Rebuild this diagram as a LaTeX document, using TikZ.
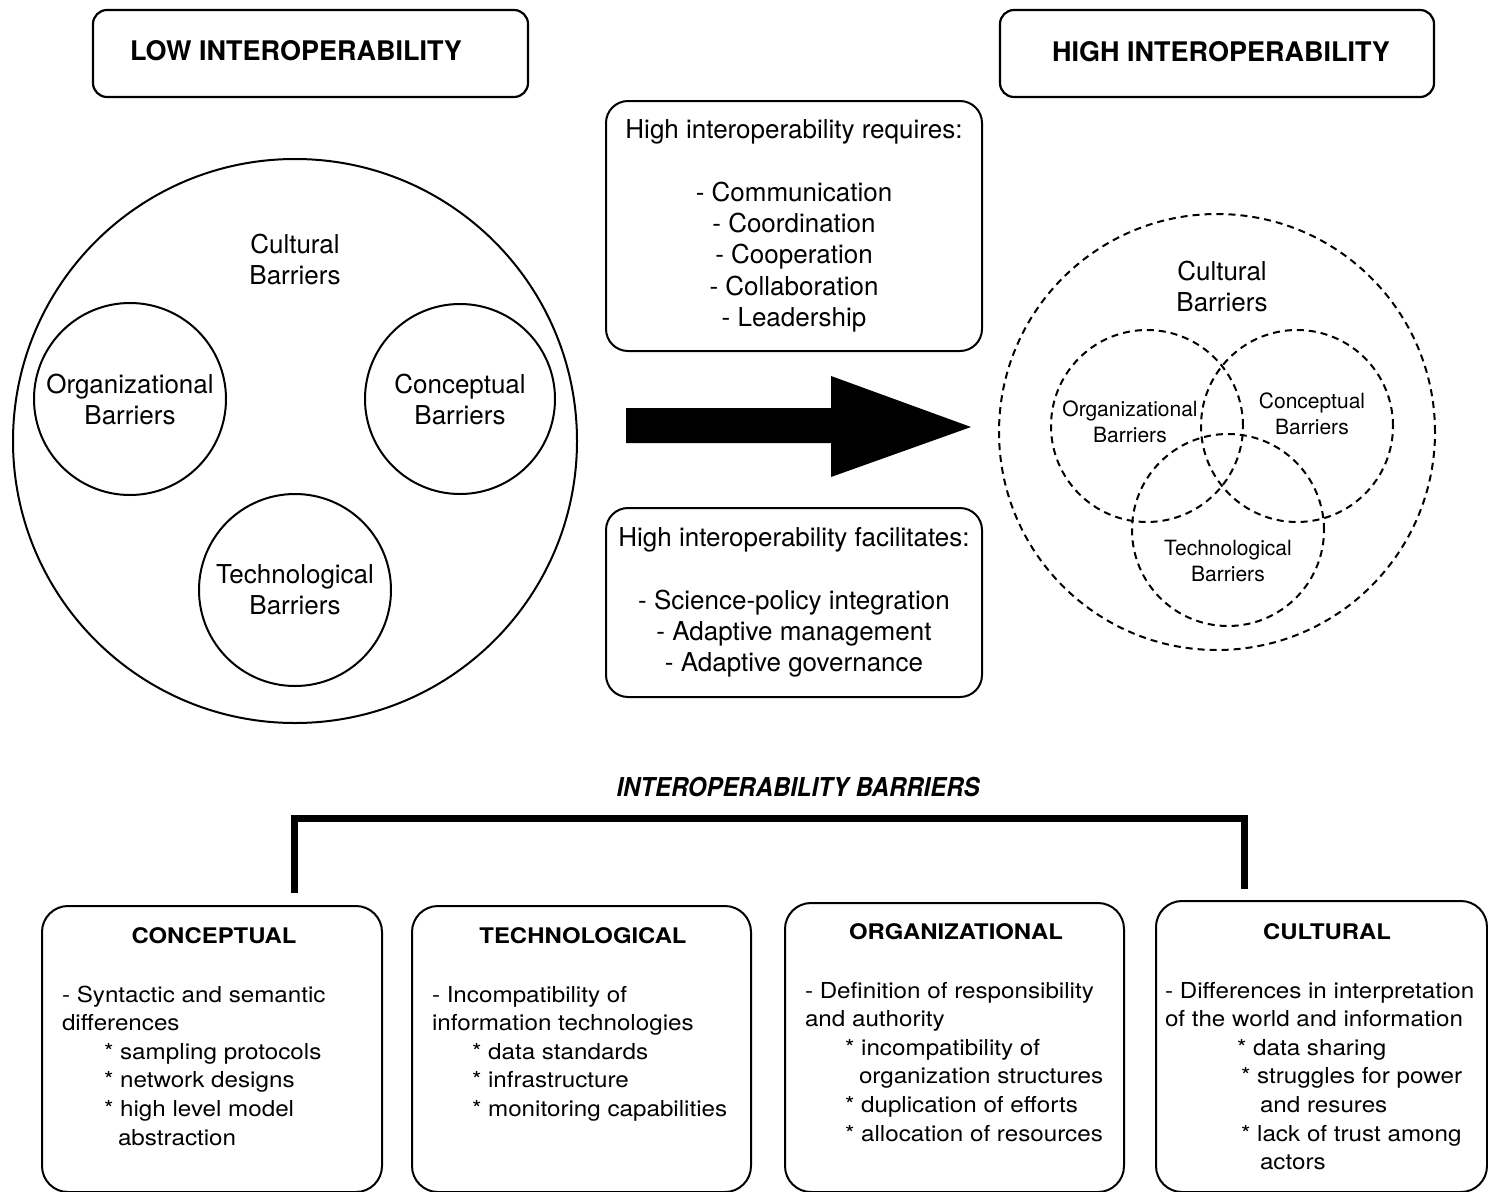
\documentclass[tikz,border=0pt]{standalone}
\usepackage{fontspec}
\setmainfont{TeX Gyre Heros}
\newfontfamily\widefont{TeX Gyre Heros}[FakeStretch=1.1]
\newfontfamily\widetitlefont{TeX Gyre Heros}[FakeStretch=1.11]
\newfontfamily\narrowfont{TeX Gyre Heros}[FakeStretch=0.92]
\newcommand{\bodypar}[1]{\parbox[t]{330pt}{\raggedright #1}}
\begin{document}
\begin{tikzpicture}[x=1pt,y=-1pt,
  every node/.style={inner sep=0pt, outer sep=0pt},
  hdr/.style={font=\bfseries\fontsize{27}{32}\selectfont},
  topbox/.style={draw, line width=2.2pt, rounded corners=14pt, minimum height=87pt},
  solidc/.style={circle, draw, line width=2pt, align=center, font=\fontsize{26}{31}\selectfont},
  dashc/.style={circle, draw, line width=2pt, dash pattern=on 7pt off 5pt},
  bigtxt/.style={align=center, font=\fontsize{26}{31}\selectfont},
  smalltxt/.style={align=center, font=\fontsize{21}{26}\selectfont},
  midbox/.style={draw, line width=2pt, rounded corners=22pt, minimum width=376pt, align=center, font=\fontsize{26}{31.3}\selectfont},
  barbox/.style={draw, line width=2pt, rounded corners=26pt, anchor=north west},
  bartitle/.style={font=\widetitlefont\bfseries\fontsize{21.5}{26}\selectfont},
  barbody/.style={anchor=base west, font=\widefont\fontsize{22}{28.6}\selectfont},
  bracket/.style={line width=7pt, line join=miter}
]
\fill[white] (0,0) rectangle (1488,1191);
\useasboundingbox (0,0) rectangle (1488,1191);

% top headers
\node[topbox, minimum width=435pt] (lowbox) at (310.5,53.5) {};
\node[hdr] (lowlabel) at (296,51) {LOW INTEROPERABILITY};
\node[topbox, minimum width=434pt] (highbox) at (1217,53.5) {};
\node[hdr] (highlabel) at (1221,52) {HIGH INTEROPERABILITY};

% left: low interoperability circles
\node[solidc, minimum size=564pt] (lowcult) at (295,441) {};
\node[bigtxt] (lowculttxt) at (295,259.5) {Cultural\\Barriers};
\node[solidc, minimum size=192pt] (loworg) at (130,399) {Organizational\\Barriers};
\node[solidc, minimum size=190pt] (lowcon) at (460,399) {Conceptual\\Barriers};
\node[solidc, minimum size=192pt] (lowtech) at (295,590) {Technological\\Barriers};

% middle boxes
\node[midbox, minimum height=250pt] (req) at (794,226) {High interoperability requires:\\[31.3pt]
- Communication\\- Coordination\\- Cooperation\\- Collaboration\\- Leadership};
\node[midbox, minimum height=189pt] (fac) at (794,602.5) {High interoperability facilitates:\\[31.3pt]
- Science-policy integration\\- Adaptive management\\- Adaptive governance};

% big arrow
\fill (626,408) -- (831,408) -- (831,376) -- (971,427) -- (831,477) -- (831,443) -- (626,443) -- cycle;

% right: high interoperability circles
\node[dashc, minimum size=436pt] (highcult) at (1217,432) {};
\node[dashc, minimum size=192pt] (highorg) at (1147,426) {};
\node[dashc, minimum size=192pt] (highcon) at (1297,426) {};
\node[dashc, minimum size=192pt] (hightech) at (1228,530) {};
\node[bigtxt] (highculttxt) at (1222,286.5) {Cultural\\Barriers};
\node[smalltxt] (highorgtxt) at (1130,422) {Organizational\\Barriers};
\node[smalltxt] (highcontxt) at (1312,414) {Conceptual\\Barriers};
\node[smalltxt] (hightechtxt) at (1228,560.5) {Technological\\Barriers};

% interoperability barriers
\node[font=\narrowfont\bfseries\itshape\fontsize{26}{30}\selectfont] (barhdr) at (798,787) {INTEROPERABILITY BARRIERS};
\coordinate (bl) at (294,893);
\coordinate (bm) at (770,818);
\coordinate (br) at (1244,889);
\draw[bracket] (bl) |- (bm) -| (br);

\node[barbox, minimum width=340pt, minimum height=286pt] (conc) at (42,906) {};
\node[barbox, minimum width=339pt, minimum height=286pt] (tech) at (412,906) {};
\node[barbox, minimum width=339pt, minimum height=289pt] (org) at (785,903) {};
\node[barbox, minimum width=331pt, minimum height=291pt] (cult) at (1156,901) {};

\node[bartitle] (conct) at (214,936) {CONCEPTUAL};
\node[bartitle] (techt) at (583,936) {TECHNOLOGICAL};
\node[bartitle] (orgt) at (956,932) {ORGANIZATIONAL};
\node[bartitle] (cultt) at (1327,932) {CULTURAL};

\node[barbody] (concb) at (62,1002) {\bodypar{- Syntactic and semantic\\differences\\
\hspace*{42pt}* sampling protocols\\
\hspace*{42pt}* network designs\\
\hspace*{42pt}* high level model\\
\hspace*{56pt}abstraction}};
\node[barbody] (techb) at (432,1002) {\bodypar{- Incompatibility of\\information technologies\\
\hspace*{40pt}* data standards\\
\hspace*{40pt}* infrastructure\\
\hspace*{40pt}* monitoring capabilities}};
\node[barbody] (orgb) at (805,998) {\bodypar{- Definition of responsibility\\and authority\\
\hspace*{40pt}* incompatibility of\\
\hspace*{54pt}organization structures\\
\hspace*{40pt}* duplication of efforts\\
\hspace*{40pt}* allocation of resources}};
\node[barbody] (cultb) at (1165,998) {\bodypar{- Differences in interpretation\\of the world and information\\
\hspace*{72pt}* data sharing\\
\hspace*{76pt}* struggles for power\\
\hspace*{95pt}and resures\\
\hspace*{76pt}* lack of trust among\\
\hspace*{95pt}actors}};
\end{tikzpicture}
\end{document}
